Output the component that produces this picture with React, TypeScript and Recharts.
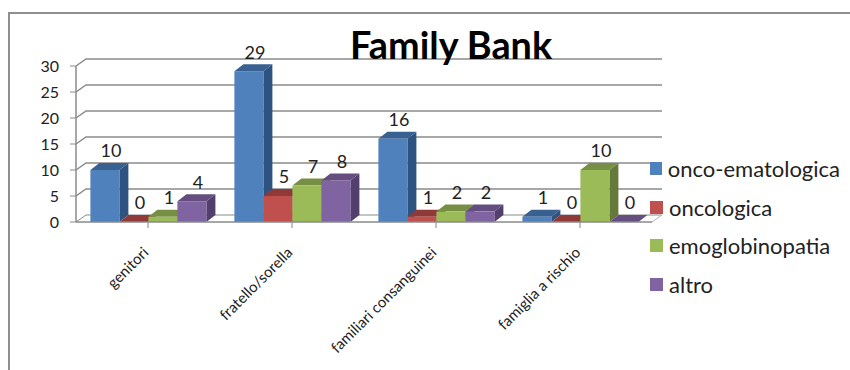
import { BarChart, Bar, XAxis, YAxis, CartesianGrid, Legend, LabelList } from "recharts";

const categories = ["genitori", "fratello/sorella", "familiari consanguinei", "famiglia a rischio"];
const oncoEmatologica = [10, 29, 16, 1];
const oncologica = [0, 5, 1, 0];
const emoglobinopatia = [1, 7, 2, 10];
const altro = [4, 8, 2, 0];
const yTicks = [0, 5, 10, 15, 20, 25, 30];

const rows = categories.map((name, i) => ({
  name,
  oncoEmatologica: oncoEmatologica[i],
  oncologica: oncologica[i],
  emoglobinopatia: emoglobinopatia[i],
  altro: altro[i],
}));

const series = [
  { key: "oncoEmatologica", label: "onco-ematologica", front: "#4F81BD", top: "#386090", side: "#2F5380" },
  { key: "oncologica", label: "oncologica", front: "#C0504D", top: "#8F3A38", side: "#7D3230" },
  { key: "emoglobinopatia", label: "emoglobinopatia", front: "#9BBB59", top: "#768F44", side: "#65793A" },
  { key: "altro", label: "altro", front: "#8064A2", top: "#644E80", side: "#533F6C" },
];

const FONT = "Lato, 'Open Sans', sans-serif";
const GRID = "#8a8a8a";
const DX = 9;
const DY = 7;

// extruded bar: front face plus side and top faces
function Bar3D(props: any) {
  const { x, y, width, height, front, top, side } = props;
  const b = y + height;
  const r = x + width;
  return (
    <g>
      {height > 0 && (
        <polygon points={`${r},${y} ${r + DX},${y - DY} ${r + DX},${b - DY} ${r},${b}`} fill={side} />
      )}
      <polygon points={`${x},${y} ${x + DX},${y - DY} ${r + DX},${y - DY} ${r},${y}`} fill={top} />
      {height > 0 && <rect x={x} y={y} width={width} height={height} fill={front} />}
    </g>
  );
}

// gridline on the back wall, with the slanted part along the left wall
function WallLine(props: any) {
  const { x1, x2, y1 } = props;
  const floor = y1 === 222;
  return (
    <g>
      <polyline
        points={`${x1},${y1} ${x1 + DX + 1},${y1 - DY} ${x2 + DX + 1},${y1 - DY}`}
        fill="none"
        stroke={GRID}
        strokeWidth={floor ? 1 : 1.5}
      />
      {floor && <line x1={x2} y1={y1} x2={x2 + DX + 1} y2={y1 - DY} stroke="#b5b5b5" />}
    </g>
  );
}

function ValueLabel(props: any) {
  const { x, y, width, value } = props;
  return (
    <text x={x + width / 2 + 6} y={y - 19} dy="0.35em" textAnchor="middle" fontFamily={FONT} fontSize={18} fill="#222">
      {value}
    </text>
  );
}

function LegendList({ payload }: any) {
  return (
    <div style={{ fontFamily: FONT, fontSize: 22, color: "#222", whiteSpace: "nowrap" }}>
      {(payload || []).map((item: any) => (
        <div key={item.value} style={{ display: "flex", alignItems: "center", height: 38.7 }}>
          <span style={{ width: 13, height: 13, background: item.color, marginRight: 6 }} />
          {item.value}
        </div>
      ))}
    </div>
  );
}

export default function App() {
  return (
    <div style={{ position: "absolute", left: 0, top: 0, width: 850, height: 370, background: "#fff", overflow: "hidden" }}>
      <div
        style={{
          position: "absolute",
          left: 8,
          top: 12,
          width: 860,
          height: 380,
          borderLeft: "2px solid #8f8f8f",
          borderTop: "2px solid #8f8f8f",
        }}
      />
      <BarChart
        width={850}
        height={370}
        data={rows}
        margin={{ top: 66, right: 8, bottom: 0, left: 0 }}
        barCategoryGap="10%"
        barGap={0}
        style={{ position: "absolute", left: 0, top: 0 }}
      >
        <CartesianGrid vertical={false} horizontal={(p: any) => <WallLine key={p.key} {...p} />} />
        <XAxis
          dataKey="name"
          height={148}
          interval={0}
          angle={-45}
          textAnchor="end"
          dx={-6}
          tick={{ fontFamily: FONT, fontSize: 15, fill: "#222" }}
          tickSize={6}
          tickMargin={18}
          axisLine={{ stroke: GRID, strokeWidth: 1.5 }}
          tickLine={{ stroke: GRID }}
          scale="band"
        />
        <YAxis
          width={76}
          domain={[0, 30]}
          ticks={yTicks}
          interval={0}
          tick={{ fontFamily: FONT, fontSize: 16, fill: "#222" }}
          tickSize={6}
          tickMargin={11}
          axisLine={{ stroke: GRID, strokeWidth: 1.5 }}
          tickLine={{ stroke: GRID }}
        />
        <Legend
          layout="vertical"
          align="right"
          verticalAlign="top"
          width={190}
          itemSorter={null}
          wrapperStyle={{ top: 149, left: 650 }}
          content={<LegendList />}
        />
        {series.map((s) => (
          <Bar
            key={s.key}
            dataKey={s.key}
            name={s.label}
            fill={s.front}
            isAnimationActive={false}
            shape={<Bar3D front={s.front} top={s.top} side={s.side} />}
          >
            <LabelList dataKey={s.key} content={<ValueLabel />} />
          </Bar>
        ))}
      </BarChart>
      <div
        style={{
          position: "absolute",
          left: 350,
          top: 23,
          fontFamily: FONT,
          fontSize: 37.8,
          fontWeight: 700,
          lineHeight: "44px",
          color: "#000",
          whiteSpace: "nowrap",
        }}
      >
        Family Bank
      </div>
    </div>
  );
}
